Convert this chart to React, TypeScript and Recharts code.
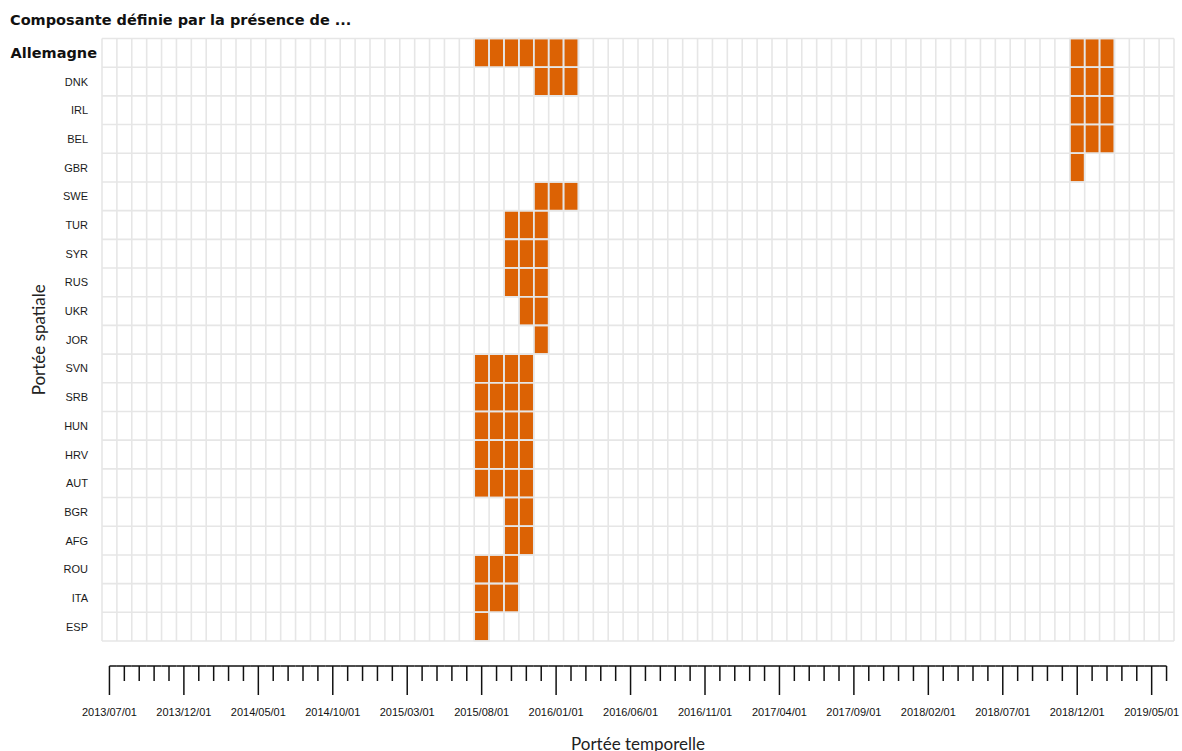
import React from 'react';
import { ComposedChart, XAxis, YAxis, ReferenceArea, ReferenceLine, Scatter, Label } from 'recharts';

const countries = ['Allemagne', 'DNK', 'IRL', 'BEL', 'GBR', 'SWE', 'TUR', 'SYR', 'RUS', 'UKR', 'JOR', 'SVN', 'SRB', 'HUN', 'HRV', 'AUT', 'BGR', 'AFG', 'ROU', 'ITA', 'ESP'];

const months: string[] = [
  '2013/07', '2013/08', '2013/09', '2013/10', '2013/11', '2013/12',
  '2014/01', '2014/02', '2014/03', '2014/04', '2014/05', '2014/06', '2014/07', '2014/08', '2014/09', '2014/10', '2014/11', '2014/12',
  '2015/01', '2015/02', '2015/03', '2015/04', '2015/05', '2015/06', '2015/07', '2015/08', '2015/09', '2015/10', '2015/11', '2015/12',
  '2016/01', '2016/02', '2016/03', '2016/04', '2016/05', '2016/06', '2016/07', '2016/08', '2016/09', '2016/10', '2016/11', '2016/12',
  '2017/01', '2017/02', '2017/03', '2017/04', '2017/05', '2017/06', '2017/07', '2017/08', '2017/09', '2017/10', '2017/11', '2017/12',
  '2018/01', '2018/02', '2018/03', '2018/04', '2018/05', '2018/06', '2018/07', '2018/08', '2018/09', '2018/10', '2018/11', '2018/12',
  '2019/01', '2019/02', '2019/03', '2019/04', '2019/05', '2019/06',
];

const tickLabels = ['2013/07/01', '2013/12/01', '2014/05/01', '2014/10/01', '2015/03/01', '2015/08/01', '2016/01/01', '2016/06/01', '2016/11/01', '2017/04/01', '2017/09/01', '2018/02/01', '2018/07/01', '2018/12/01', '2019/05/01'];

const presenceAllemagne = ['2015/08', '2015/09', '2015/10', '2015/11', '2015/12', '2016/01', '2016/02', '2018/12', '2019/01', '2019/02'];
const presenceDNK = ['2015/12', '2016/01', '2016/02', '2018/12', '2019/01', '2019/02'];
const presenceIRL = ['2018/12', '2019/01', '2019/02'];
const presenceBEL = ['2018/12', '2019/01', '2019/02'];
const presenceGBR = ['2018/12'];
const presenceSWE = ['2015/12', '2016/01', '2016/02'];
const presenceTUR = ['2015/10', '2015/11', '2015/12'];
const presenceSYR = ['2015/10', '2015/11', '2015/12'];
const presenceRUS = ['2015/10', '2015/11', '2015/12'];
const presenceUKR = ['2015/11', '2015/12'];
const presenceJOR = ['2015/12'];
const presenceSVN = ['2015/08', '2015/09', '2015/10', '2015/11'];
const presenceSRB = ['2015/08', '2015/09', '2015/10', '2015/11'];
const presenceHUN = ['2015/08', '2015/09', '2015/10', '2015/11'];
const presenceHRV = ['2015/08', '2015/09', '2015/10', '2015/11'];
const presenceAUT = ['2015/08', '2015/09', '2015/10', '2015/11'];
const presenceBGR = ['2015/10', '2015/11'];
const presenceAFG = ['2015/10', '2015/11'];
const presenceROU = ['2015/08', '2015/09', '2015/10'];
const presenceITA = ['2015/08', '2015/09', '2015/10'];
const presenceESP = ['2015/08'];

const presence: string[][] = [
  presenceAllemagne, presenceDNK, presenceIRL, presenceBEL, presenceGBR, presenceSWE,
  presenceTUR, presenceSYR, presenceRUS, presenceUKR, presenceJOR, presenceSVN, presenceSRB,
  presenceHUN, presenceHRV, presenceAUT, presenceBGR, presenceAFG, presenceROU, presenceITA, presenceESP,
];

const cells = presence.flatMap((list, r) => list.map((mo) => ({ m: months.indexOf(mo), r })));

const monthIdx = months.map((_, i) => i);
const rowIdx = countries.map((_, i) => i);
const xBounds = [...monthIdx.map((i) => i - 0.5), months.length - 0.5];
const yBounds = [...rowIdx.map((i) => i - 0.5), countries.length - 0.5];

const W = 1182;
const H = 751;
const M_TOP = 38.5;
const M_RIGHT = 8;
const Y_W = 102;
const X_H = 110;
const STEP = (W - Y_W - M_RIGHT) / months.length;

const ORANGE = '#DC6204';
const GRID = '#e6e6e6';
const SANS = '"Liberation Sans", Arial, sans-serif';
const GEO = 'Lato, "Open Sans", sans-serif';
const GEO_BOLD = '"DejaVu Sans", Lato, sans-serif';

const YTick = (props: any) => {
  const { x, y, payload } = props;
  const i = payload.value as number;
  if (i === 0) {
    return (
      <text x={x - 5} y={y} textAnchor="end" dominantBaseline="central" fontFamily={GEO_BOLD} fontWeight={700} fontSize={14.5} fill="#111">
        {countries[i]}
      </text>
    );
  }
  return (
    <text x={x - 14} y={y} textAnchor="end" dominantBaseline="central" fontFamily={SANS} fontSize={11} fill="#1a1a1a">
      {countries[i]}
    </text>
  );
};

const XTick = (props: any) => {
  const { x, y, payload } = props;
  const i = payload.value as number;
  const major = i % 5 === 0;
  const half = STEP / 2;
  const x1 = i === 0 ? x : x - half;
  const x2 = i === months.length - 1 ? x : x + half;
  const ly = y + 25;
  return (
    <g>
      <line x1={x1} x2={x2} y1={ly} y2={ly} stroke="#111" strokeWidth={1.5} />
      <line x1={x} x2={x} y1={ly} y2={ly + (major ? 29 : 15)} stroke="#111" strokeWidth={1.5} />
      {major && (
        <text x={x} y={ly + 50} textAnchor="middle" fontFamily={SANS} fontSize={11} fill="#111">
          {tickLabels[i / 5]}
        </text>
      )}
    </g>
  );
};

export default function App() {
  return (
    <div style={{ position: 'absolute', left: 0, top: 0, width: W, height: H, background: '#fff' }}>
      <div style={{ position: 'absolute', left: 10, top: 10, fontFamily: GEO_BOLD, fontWeight: 700, fontSize: 14.5, color: '#111', lineHeight: '20px', whiteSpace: 'nowrap' }}>
        Composante définie par la présence de ...
      </div>
      <ComposedChart width={W} height={H} data={cells} margin={{ top: M_TOP, right: M_RIGHT, left: 0, bottom: 0 }}>
        <XAxis
          type="number"
          dataKey="m"
          domain={[-0.5, months.length - 0.5]}
          allowDataOverflow
          ticks={monthIdx}
          interval={0}
          tick={<XTick />}
          tickLine={false}
          axisLine={false}
          tickSize={0}
          tickMargin={0}
          height={X_H}
        >
          <Label
            content={(p: any) => {
              const vb = p.viewBox;
              return (
                <text x={vb.x + vb.width / 2} y={vb.y + vb.height - 1.5} textAnchor="middle" fontFamily={GEO} fontSize={17} fill="#222">
                  Portée temporelle
                </text>
              );
            }}
          />
        </XAxis>
        <YAxis
          type="number"
          dataKey="r"
          domain={[-0.5, countries.length - 0.5]}
          reversed
          allowDataOverflow
          ticks={rowIdx}
          interval={0}
          tick={<YTick />}
          tickLine={false}
          axisLine={false}
          tickSize={0}
          tickMargin={0}
          width={Y_W}
        >
          <Label
            content={(p: any) => {
              const vb = p.viewBox;
              const cx = 38;
              const cy = vb.y + vb.height / 2;
              return (
                <text x={cx} y={cy} transform={`rotate(-90 ${cx} ${cy})`} textAnchor="middle" dominantBaseline="central" fontFamily={GEO} fontSize={17} fill="#222">
                  Portée spatiale
                </text>
              );
            }}
          />
        </YAxis>
        {xBounds.map((b) => (
          <ReferenceLine key={`vx${b}`} x={b} stroke={GRID} strokeWidth={1.6} ifOverflow="visible" />
        ))}
        {yBounds.map((b) => (
          <ReferenceLine key={`hy${b}`} y={b} stroke={GRID} strokeWidth={1.6} ifOverflow="visible" />
        ))}
        {cells.map((c, k) => (
          <ReferenceArea
            key={`c${k}`}
            x1={c.m - 0.5}
            x2={c.m + 0.5}
            y1={c.r - 0.5}
            y2={c.r + 0.5}
            fill={ORANGE}
            fillOpacity={1}
            stroke={GRID}
            strokeWidth={1.5}
            ifOverflow="visible"
          />
        ))}
        <Scatter data={cells} dataKey="r" isAnimationActive={false} shape={() => <g />} />
      </ComposedChart>
    </div>
  );
}
